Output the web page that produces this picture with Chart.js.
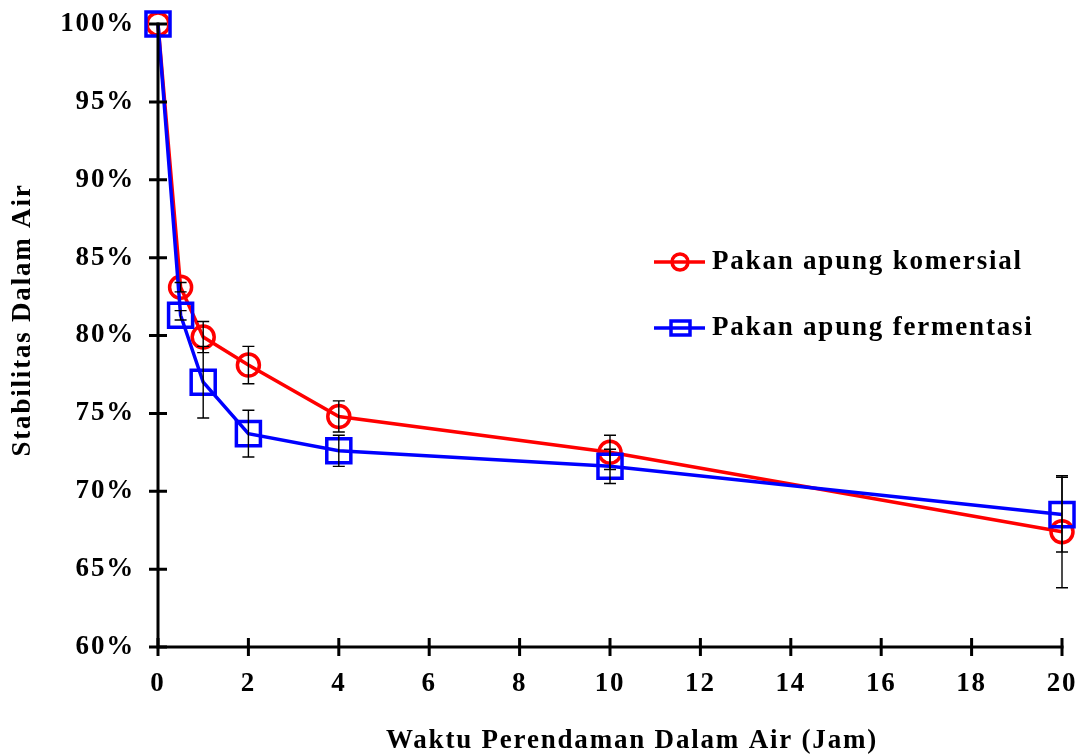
<!DOCTYPE html>
<html>
<head>
<meta charset="utf-8">
<script src="https://cdn.jsdelivr.net/npm/chart.js@4"></script>
<style>
  html, body { margin: 0; padding: 0; background: #fff; }
  #wrap { width: 1083px; height: 756px; }
</style>
</head>
<body>
<div id="wrap"><canvas id="chart" width="1083" height="756"></canvas></div>
<script>
const hours = [0, 0.5, 1, 2, 4, 10, 20];
const komersial = [100, 83.1, 79.9, 78.1, 74.8, 72.5, 67.4];
const komersialErr = [0, 0.3, 1.0, 1.2, 1.0, 1.1, 3.6];
const fermentasi = [100, 81.3, 77.0, 73.7, 72.6, 71.6, 68.5];
const fermentasiErr = [0, 0.3, 2.3, 1.5, 1.0, 1.1, 2.4];
const seriesNames = ['Pakan apung komersial', 'Pakan apung fermentasi'];
const xTitle = 'Waktu Perendaman Dalam Air (Jam)';
const yTitle = 'Stabilitas Dalam Air';

const RED = '#ff0000';
const BLUE = '#0000ff';
const FONT = "'Liberation Serif', 'Times New Roman', serif";
const SPACING = '1.8px';

function points(ys) {
  return hours.map((h, i) => ({ x: h, y: ys[i] }));
}

// error bars, axes with crossing ticks, titles and legend
const decor = {
  id: 'decor',
  beforeDraw(chart) {
    chart.ctx.letterSpacing = SPACING;
  },
  afterDatasetsDraw(chart) {
    const { ctx, chartArea: a, scales } = chart;
    const xs = scales.x, ys = scales.y;
    ctx.save();

    // error bars
    const errs = [komersialErr, fermentasiErr];
    const vals = [komersial, fermentasi];
    ctx.strokeStyle = '#000';
    ctx.lineWidth = 1.4;
    errs.forEach((err, di) => {
      const meta = chart.getDatasetMeta(di);
      meta.data.forEach((pt, i) => {
        if (!err[i]) return;
        const top = ys.getPixelForValue(vals[di][i] + err[i]);
        const bot = ys.getPixelForValue(vals[di][i] - err[i]);
        ctx.beginPath();
        ctx.moveTo(pt.x, top); ctx.lineTo(pt.x, bot);
        ctx.moveTo(pt.x - 6, top); ctx.lineTo(pt.x + 6, top);
        ctx.moveTo(pt.x - 6, bot); ctx.lineTo(pt.x + 6, bot);
        ctx.stroke();
      });
    });

    // axes
    ctx.lineWidth = 3;
    ctx.lineCap = 'square';
    ctx.beginPath();
    ctx.moveTo(a.left, a.top); ctx.lineTo(a.left, a.bottom); ctx.lineTo(a.right, a.bottom);
    ctx.stroke();
    ctx.lineCap = 'butt';
    ctx.beginPath();
    ys.ticks.forEach((t) => {
      const y = ys.getPixelForValue(t.value);
      ctx.moveTo(a.left - 9, y); ctx.lineTo(a.left + 9, y);
    });
    xs.ticks.forEach((t) => {
      const x = xs.getPixelForValue(t.value);
      ctx.moveTo(x, a.bottom - 9); ctx.lineTo(x, a.bottom + 9);
    });
    ctx.stroke();

    // axis titles
    ctx.fillStyle = '#000';
    ctx.font = `bold 27px ${FONT}`;
    ctx.textAlign = 'center';
    ctx.textBaseline = 'middle';
    ctx.fillText(xTitle, 632, 741);
    ctx.save();
    ctx.translate(23, 320);
    ctx.rotate(-Math.PI / 2);
    ctx.fillText(yTitle, 0, 0);
    ctx.restore();

    // legend
    const rows = [
      { color: RED, style: 'circle', y: 262 },
      { color: BLUE, style: 'rect', y: 328 },
    ];
    rows.forEach((r, i) => {
      ctx.strokeStyle = r.color;
      ctx.lineWidth = 3.5;
      ctx.beginPath();
      ctx.moveTo(654, r.y); ctx.lineTo(705, r.y);
      ctx.stroke();
      ctx.beginPath();
      if (r.style === 'circle') {
        ctx.arc(680, r.y, 8, 0, Math.PI * 2);
      } else {
        ctx.rect(671, r.y - 7, 19, 14);
      }
      ctx.stroke();
      ctx.fillStyle = '#000';
      ctx.textAlign = 'left';
      ctx.fillText(seriesNames[i], 712, r.y);
    });

    ctx.restore();
  },
};

const tickFont = { family: FONT, size: 27, weight: 'bold' };

new Chart(document.getElementById('chart').getContext('2d'), {
  type: 'line',
  data: {
    datasets: [
      {
        label: seriesNames[0],
        data: points(komersial),
        borderColor: RED,
        backgroundColor: 'transparent',
        borderWidth: 3.5,
        pointStyle: 'circle',
        pointRadius: 11,
        pointBorderWidth: 3.5,
        pointBorderColor: RED,
        pointBackgroundColor: 'transparent',
        tension: 0,
        clip: false,
        order: 1,
      },
      {
        label: seriesNames[1],
        data: points(fermentasi),
        borderColor: BLUE,
        backgroundColor: 'transparent',
        borderWidth: 3.5,
        pointStyle: 'rect',
        pointRadius: 17,
        pointBorderWidth: 3.5,
        pointBorderColor: BLUE,
        pointBackgroundColor: 'transparent',
        tension: 0,
        clip: false,
        order: 0,
      },
    ],
  },
  options: {
    responsive: false,
    animation: false,
    layout: { autoPadding: false, padding: { top: 24, right: 21, left: 0, bottom: 0 } },
    plugins: { legend: { display: false }, tooltip: { enabled: false } },
    scales: {
      x: {
        type: 'linear',
        min: 0,
        max: 20,
        ticks: { stepSize: 2, autoSkip: false, maxRotation: 0, color: '#000', font: tickFont, padding: 21 },
        grid: { display: false, drawTicks: false },
        border: { display: false },
        afterFit: (s) => { s.height = 109; s.paddingLeft = 0; s.paddingRight = 0; },
      },
      y: {
        min: 60,
        max: 100,
        ticks: { stepSize: 5, color: '#000', font: tickFont, padding: 23, callback: (v) => v + '%' },
        grid: { display: false, drawTicks: false },
        border: { display: false },
        afterFit: (s) => { s.width = 158; s.paddingTop = 0; s.paddingBottom = 0; },
      },
    },
  },
  plugins: [decor],
});
</script>
</body>
</html>
